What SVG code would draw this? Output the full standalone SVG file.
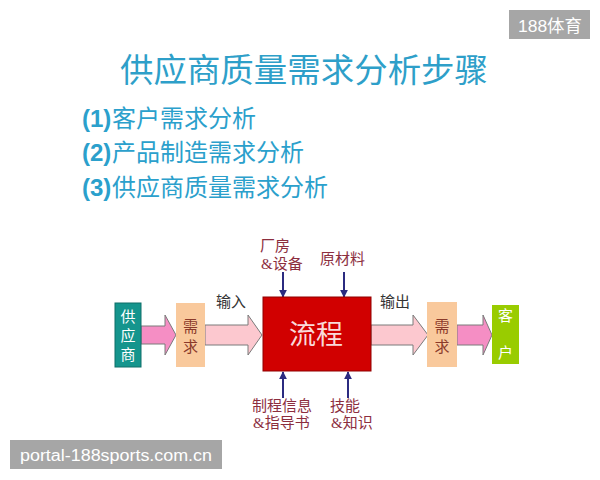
<svg xmlns="http://www.w3.org/2000/svg" width="600" height="480" viewBox="0 0 600 480">
<defs>
<style>
.title{font-family:"Noto Sans CJK SC",sans-serif;font-size:33px;fill:#2e9fc9}
.item{font-family:"Noto Sans CJK SC",sans-serif;font-size:24px;fill:#2ba0cc}
.num{font-family:"Liberation Sans","Noto Sans CJK SC",sans-serif;font-weight:bold;font-size:24px;fill:#2ba0cc}
.lbl{font-family:"Liberation Serif","Noto Sans CJK SC",serif;font-size:15px;fill:#8c2e3e}
.io{font-family:"Liberation Serif","Noto Sans CJK SC",serif;font-size:15px;fill:#333333}
.vw{font-family:"Liberation Serif","Noto Sans CJK SC",serif;font-size:15px;fill:#ffffff;text-anchor:middle}
.vd{font-family:"Liberation Serif","Noto Sans CJK SC",serif;font-size:15px;fill:#8b3a2a;text-anchor:middle}
.wm{font-family:"Liberation Sans","Noto Sans CJK SC",sans-serif;fill:#ffffff}
.blk{stroke:#7a7a7a;stroke-width:1}
.nav{stroke:#2b2b80;stroke-width:2;fill:none}
</style>
<marker id="ah" viewBox="0 0 10 10" refX="9" refY="5" markerWidth="4" markerHeight="4" orient="auto" markerUnits="strokeWidth">
<path d="M0,0 L10,5 L0,10 Z" fill="#2b2b80"/>
</marker>
</defs>
<rect width="600" height="480" fill="#ffffff"/>

<g id="watermark-top">
<rect x="509" y="10" width="81" height="29" fill="#a6a6a6"/>
<text class="wm" x="518" y="32" font-size="17" textLength="64" lengthAdjust="spacingAndGlyphs">188体育</text>
</g>

<g id="title">
<text class="title" x="120" y="82" textLength="368" lengthAdjust="spacingAndGlyphs">供应商质量需求分析步骤</text>
</g>

<g id="list">
<text x="82" y="127"><tspan class="num">(1)</tspan><tspan class="item" x="112">客户需求分析</tspan></text>
<text x="82" y="161"><tspan class="num">(2)</tspan><tspan class="item" x="112">产品制造需求分析</tspan></text>
<text x="82" y="196"><tspan class="num">(3)</tspan><tspan class="item" x="112">供应商质量需求分析</tspan></text>
</g>

<g id="connectors">
<path class="blk" d="M141,326 H165 V315 L176,335 L165,355 V344 H141 Z" fill="#f58ec4"/>
<path class="blk" d="M205,325 H248 V315 L262,335 L248,355 V345 H205 Z" fill="#fcc8cf"/>
<path class="blk" d="M371,325 H413 V315 L428,335 L413,355 V345 H371 Z" fill="#fcc8cf"/>
<path class="blk" d="M457,325 H483 V315 L492,335 L483,355 V345 H457 Z" fill="#f58ec4"/>
<line class="nav" x1="283" y1="272" x2="283" y2="297" marker-end="url(#ah)"/>
<line class="nav" x1="344" y1="272" x2="344" y2="297" marker-end="url(#ah)"/>
<line class="nav" x1="283" y1="398" x2="283" y2="372" marker-end="url(#ah)"/>
<line class="nav" x1="348" y1="398" x2="348" y2="372" marker-end="url(#ah)"/>
<text class="io" x="216" y="307">输入</text>
<text class="io" x="380" y="307">输出</text>
</g>

<g id="supplier">
<rect x="115" y="303" width="26" height="64" fill="#15958d" stroke="#0e6e68" stroke-width="1"/>
<text class="vw" x="128" y="322">供</text>
<text class="vw" x="128" y="341">应</text>
<text class="vw" x="128" y="360">商</text>
</g>

<g id="demand-in">
<rect x="176" y="303" width="29" height="64" fill="#f9c99c"/>
<text class="vd" x="190.5" y="332">需</text>
<text class="vd" x="190.5" y="352">求</text>
</g>

<g id="process">
<rect x="263" y="297" width="108" height="74" fill="#d10000" stroke="#8f0000" stroke-width="1"/>
<text x="316" y="344" text-anchor="middle" font-family="Liberation Serif, Noto Sans CJK SC, serif" font-size="27" fill="#f9dada">流程</text>
</g>

<g id="demand-out">
<rect x="427" y="302" width="30" height="65" fill="#f9c99c"/>
<text class="vd" x="442" y="332">需</text>
<text class="vd" x="442" y="352">求</text>
</g>

<g id="customer">
<rect x="492" y="305" width="27" height="59" fill="#99cc00"/>
<text class="vw" x="505.5" y="321">客</text>
<text class="vw" x="505.5" y="358">户</text>
</g>

<g id="label-plant">
<text class="lbl" x="260" y="251">厂房</text>
<text class="lbl" x="261" y="269">&amp;设备</text>
</g>
<g id="label-material">
<text class="lbl" x="320" y="264">原材料</text>
</g>
<g id="label-info">
<text class="lbl" x="252" y="411">制程信息</text>
<text class="lbl" x="253" y="428">&amp;指导书</text>
</g>
<g id="label-skill">
<text class="lbl" x="330" y="411">技能</text>
<text class="lbl" x="331" y="428">&amp;知识</text>
</g>

<g id="watermark-bottom">
<rect x="10" y="440" width="212" height="29" fill="#a6a6a6"/>
<text class="wm" x="20" y="461" font-size="16" textLength="192" lengthAdjust="spacingAndGlyphs">portal-188sports.com.cn</text>
</g>
</svg>
